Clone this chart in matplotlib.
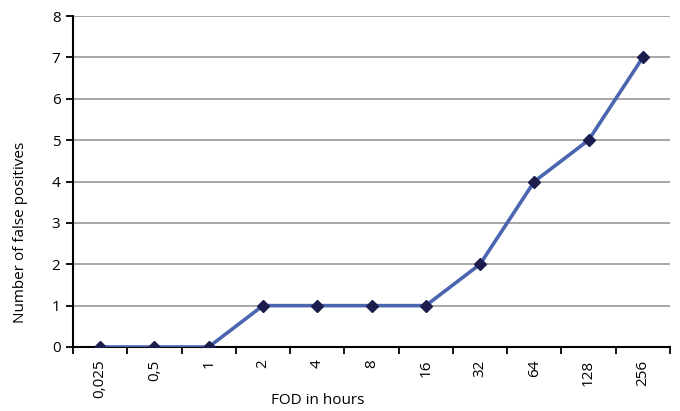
import numpy as np
import matplotlib.pyplot as plt

# data
fod_labels = ['0,025', '0,5', '1', '2', '4', '8', '16', '32', '64', '128', '256']
false_positives = [0, 0, 0, 1, 1, 1, 1, 2, 4, 5, 7]

plt.rcParams['font.family'] = ['Open Sans', 'DejaVu Sans']

fig = plt.figure(figsize=(6.8, 4.11), dpi=100)
ax = fig.add_axes([73 / 680, 1 - 347 / 411, 597 / 680, 331 / 411])

x = np.arange(len(fod_labels))
ax.plot(x, false_positives, color='#4a66b0', lw=2.6, marker='D', ms=6.5,
        mfc='#1c1c4e', mec='#1c1c4e', zorder=3)

ax.set_xlim(-0.5, len(fod_labels) - 0.5)
ax.set_ylim(0, 8)
ax.set_yticks(range(0, 9))
ax.yaxis.grid(True, color='#a0a0a0', lw=1.3)
ax.set_axisbelow(True)

# category labels centred, tick marks at the category boundaries
ax.set_xticks(x)
ax.set_xticklabels(fod_labels, rotation=90, fontsize=11)
ax.tick_params(axis='x', which='major', length=0, pad=9)
ax.set_xticks(np.arange(-0.5, len(fod_labels)), minor=True)
ax.tick_params(axis='x', which='minor', length=5, width=1.3, direction='out')
ax.tick_params(axis='y', length=5, width=1.3, labelsize=11, pad=4)

for side in ['top', 'right']:
    ax.spines[side].set_visible(False)
ax.spines['left'].set_linewidth(1.5)
ax.spines['bottom'].set_linewidth(1.5)

ax.set_ylabel('Number of false positives', fontsize=11, va='center')
ax.yaxis.set_label_coords((21 - 73) / 597, (347 - 232) / 331)
ax.set_xlabel('FOD in hours', fontsize=11, va='center')
ax.xaxis.set_label_coords((318 - 73) / 597, (347 - 400) / 331)

fig.savefig('out.png', dpi=100)
